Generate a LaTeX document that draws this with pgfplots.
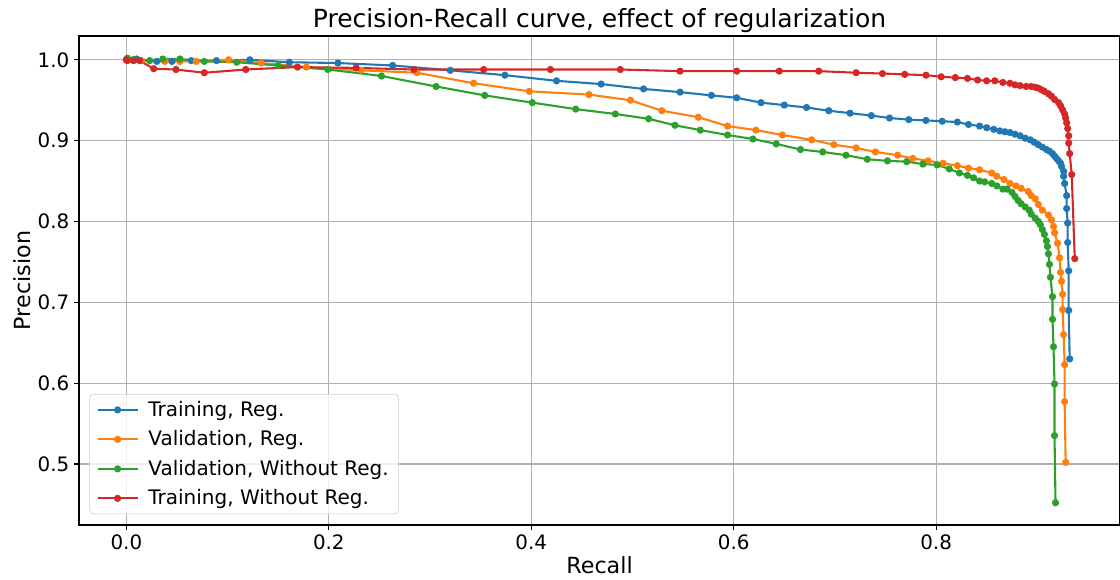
\documentclass[border=0pt]{standalone}
\usepackage{pgfplots}
\pgfplotsset{compat=1.18}
\usepackage{fontspec}
\setmainfont{DejaVu Sans}
\definecolor{cblue}{HTML}{1F77B4}
\definecolor{corange}{HTML}{FF7F0E}
\definecolor{cgreen}{HTML}{2CA02C}
\definecolor{cred}{HTML}{D62728}

\begin{document}
\begin{tikzpicture}
\begin{axis}[
    scale only axis,
    width=749.5pt, height=352.1pt,
    xmin=-0.0468, xmax=0.9817,
    ymin=0.4245, ymax=1.0295,
    xtick={0,0.2,0.4,0.6,0.8},
    ytick={0.5,0.6,0.7,0.8,0.9,1.0},
    xticklabel style={/pgf/number format/.cd, fixed, fixed zerofill, precision=1},
    yticklabel style={/pgf/number format/.cd, fixed, fixed zerofill, precision=1},
    /pgf/number format/assume math mode=true,
    tick label style={font=\fontsize{14.3}{16}\selectfont},
    tick align=outside, major tick length=3.5pt,
    tick style={black, line width=0.8pt},
    axis line style={line width=0.8pt},
    xtick pos=bottom, ytick pos=left,
    grid=major,
    major grid style={color=black!31, line width=0.8pt},
    title={Precision-Recall curve, effect of regularization},
    title style={font=\fontsize{18}{21}\selectfont, yshift=-7pt},
    xlabel={Recall}, ylabel={Precision},
    label style={font=\fontsize{16}{19}\selectfont},
    xlabel style={yshift=2pt},
    ylabel style={yshift=-2pt},
    legend cell align=left,
    legend style={at={(0.0099,0.022)}, anchor=south west,
        draw=black!20, rounded corners=3pt, fill=white, fill opacity=0.8, text opacity=1,
        font=\fontsize{14.4}{16}\selectfont, inner xsep=5pt, inner ysep=3pt,
        row sep=4.8pt, column sep=5pt},
    legend image code/.code={\draw[#1, mark repeat=2, mark phase=2] plot coordinates {(0pt,0pt) (14.4pt,0pt) (28.8pt,0pt)};},
    every axis plot/.append style={line width=1.5pt, mark=*, mark size=1.8pt},
]

\addplot[color=cblue, mark options={fill=cblue, draw=cblue}] coordinates {
(0,1.0) (0.001,1.001) (0.010,1.001) (0.030,0.998) (0.045,0.998) (0.064,0.999)
(0.089,0.999) (0.122,1.0) (0.161,0.997) (0.209,0.996) (0.263,0.993) (0.320,0.987)
(0.374,0.981) (0.425,0.974) (0.469,0.970) (0.511,0.964) (0.547,0.960) (0.578,0.956)
(0.603,0.953) (0.627,0.947) (0.650,0.944) (0.672,0.941) (0.694,0.937) (0.715,0.934)
(0.736,0.931) (0.754,0.928) (0.773,0.926) (0.790,0.925) (0.806,0.924) (0.821,0.923)
(0.832,0.920) (0.843,0.918) (0.850,0.916) (0.857,0.914) (0.863,0.912) (0.868,0.911)
(0.873,0.910) (0.878,0.908) (0.883,0.906) (0.888,0.903) (0.893,0.901) (0.897,0.898)
(0.901,0.895) (0.905,0.892) (0.909,0.889) (0.912,0.887) (0.915,0.884) (0.917,0.881)
(0.919,0.878) (0.921,0.875) (0.923,0.872) (0.924,0.868) (0.926,0.862) (0.926,0.856)
(0.927,0.847) (0.929,0.832) (0.929,0.816) (0.930,0.798) (0.930,0.774) (0.931,0.739)
(0.931,0.690) (0.932,0.630)
};
\addlegendentry{Training, Reg.}

\addplot[color=corange, mark options={fill=corange, draw=corange}] coordinates {
(0,1.0) (0.006,1.0) (0.015,0.999) (0.038,0.998) (0.053,0.998) (0.069,0.998)
(0.101,1.0) (0.133,0.996) (0.178,0.991) (0.232,0.987) (0.287,0.984) (0.343,0.971)
(0.398,0.961) (0.457,0.957) (0.498,0.950) (0.529,0.937) (0.565,0.929) (0.594,0.918)
(0.622,0.913) (0.648,0.907) (0.677,0.901) (0.699,0.895) (0.721,0.891) (0.740,0.886)
(0.762,0.882) (0.777,0.878) (0.792,0.875) (0.807,0.872) (0.821,0.869) (0.832,0.866)
(0.843,0.864) (0.855,0.860) (0.860,0.856) (0.867,0.852) (0.873,0.847) (0.879,0.844)
(0.884,0.841) (0.891,0.837) (0.894,0.832) (0.898,0.828) (0.901,0.821) (0.905,0.814)
(0.911,0.808) (0.914,0.802) (0.916,0.794) (0.917,0.786) (0.920,0.773) (0.922,0.755)
(0.923,0.737) (0.924,0.726) (0.925,0.710) (0.925,0.691) (0.926,0.660) (0.927,0.623)
(0.927,0.577) (0.928,0.502)
};
\addlegendentry{Validation, Reg.}

\addplot[color=cgreen, mark options={fill=cgreen, draw=cgreen}] coordinates {
(0.001,1.002) (0.007,1.0) (0.023,0.999) (0.036,1.001) (0.053,1.001) (0.077,0.998)
(0.109,0.997) (0.150,0.993) (0.199,0.988) (0.252,0.980) (0.306,0.967) (0.354,0.956)
(0.401,0.947) (0.444,0.939) (0.483,0.933) (0.516,0.927) (0.542,0.919) (0.567,0.913)
(0.594,0.907) (0.619,0.902) (0.642,0.896) (0.666,0.889) (0.688,0.886) (0.711,0.882)
(0.732,0.877) (0.752,0.875) (0.771,0.874) (0.787,0.871) (0.801,0.870) (0.813,0.865)
(0.823,0.860) (0.831,0.857) (0.837,0.854) (0.843,0.850) (0.848,0.849) (0.855,0.847)
(0.860,0.844) (0.866,0.840) (0.870,0.840) (0.875,0.836) (0.878,0.831) (0.881,0.826)
(0.884,0.822) (0.888,0.818) (0.892,0.814) (0.894,0.809) (0.898,0.804) (0.901,0.800)
(0.903,0.796) (0.905,0.790) (0.907,0.784) (0.909,0.776) (0.910,0.769) (0.911,0.760)
(0.912,0.747) (0.913,0.731) (0.915,0.707) (0.915,0.679) (0.916,0.645) (0.917,0.599)
(0.917,0.535) (0.918,0.452)
};
\addlegendentry{Validation, Without Reg.}

\addplot[color=cred, mark options={fill=cred, draw=cred}] coordinates {
(0,1.0) (0.001,0.999) (0.007,0.999) (0.013,0.999) (0.027,0.989) (0.049,0.988)
(0.077,0.984) (0.118,0.988) (0.169,0.991) (0.227,0.990) (0.284,0.988) (0.353,0.988)
(0.419,0.988) (0.488,0.988) (0.547,0.986) (0.603,0.986) (0.645,0.986) (0.684,0.986)
(0.721,0.984) (0.747,0.983) (0.769,0.982) (0.790,0.981) (0.805,0.979) (0.819,0.978)
(0.831,0.977) (0.841,0.975) (0.850,0.974) (0.858,0.974) (0.866,0.972) (0.873,0.971)
(0.878,0.969) (0.883,0.968) (0.889,0.967) (0.894,0.967) (0.898,0.966) (0.901,0.965)
(0.904,0.963) (0.907,0.961) (0.911,0.958) (0.914,0.955) (0.917,0.951) (0.921,0.947)
(0.923,0.943) (0.925,0.938) (0.927,0.933) (0.928,0.928) (0.929,0.922) (0.930,0.915)
(0.931,0.906) (0.931,0.897) (0.932,0.884) (0.934,0.858) (0.937,0.754)
};
\addlegendentry{Training, Without Reg.}

\end{axis}
\pgfresetboundingbox
\path ([shift={(-56.9pt,-39.6pt)}]current axis.south west) rectangle ([shift={(0pt,25.9pt)}]current axis.north east);
\end{tikzpicture}
\end{document}
